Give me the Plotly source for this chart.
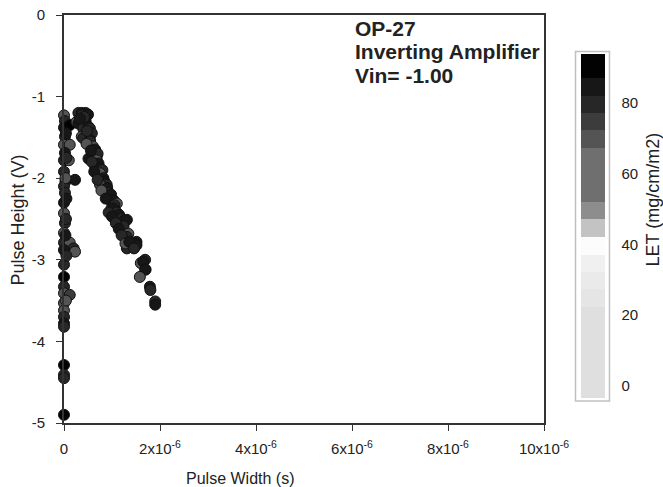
import plotly.graph_objects as go

# ---- data (pulse width in microseconds, pulse height in V, LET) ----
col_width_us = [0.0, 0.02, 0.0, 0.12, 0.02, 0.0, 0.12, 0.02, 0.0, 0.10, 0.0, 0.03, 0.23, 0.0,
                0.02, 0.0, 0.0, 0.02, 0.0, 0.0, 0.12, 0.20, 0.0, 0.23, 0.0, 0.0, 0.0, 0.0,
                0.12, 0.0, 0.0, 0.0, 0.0, 0.0, 0.0, 0.0, 0.0, 0.0,
                0.04, 0.05, 0.03, 0.05, 0.04, 0.03, 0.05, 0.04]
col_height = [-1.23, -1.30, -1.38, -1.35, -1.49, -1.59, -1.59, -1.69, -1.78, -1.78, -1.92, -2.04,
              -2.02, -2.10, -2.18, -2.30, -2.43, -2.55, -2.67, -2.79, -2.79, -2.86, -2.88, -2.90,
              -3.06, -3.21, -3.33, -3.41, -3.43, -3.53, -3.62, -3.70, -3.78, -3.82, -4.29, -4.41,
              -4.45, -4.90,
              -1.45, -1.75, -2.00, -2.25, -2.50, -2.70, -2.95, -3.50]
col_let = [68, 80, 85, 88, 80, 72, 70, 85, 80, 72, 80, 85, 85, 78, 80, 85, 72, 80, 68, 80, 72, 80,
           85, 72, 78, 88, 80, 72, 75, 72, 70, 80, 85, 80, 88, 80, 78, 90,
           85, 80, 72, 85, 80, 85, 80, 72]

band_width_us = [0.30, 0.37, 0.45, 0.50, 0.26, 0.37, 0.30, 0.45, 0.40, 0.51, 0.54, 0.37, 0.58, 0.40,
                 0.54, 0.54, 0.60, 0.61, 0.65, 0.51, 0.68, 0.70, 0.68, 0.72, 0.65, 0.75, 0.80, 0.71,
                 0.75, 0.82, 0.82, 0.85, 0.89, 0.75, 0.90, 0.92, 0.98, 0.96, 1.03, 1.10, 0.99, 1.05,
                 1.03, 1.10, 1.15, 1.17, 1.20, 1.25, 1.31, 1.24, 1.34, 1.31, 1.51, 1.44, 1.41, 1.31,
                 1.51, 1.31, 1.60, 1.69, 1.65, 1.70, 1.69, 1.58, 1.79, 1.80, 1.90, 1.90,
                 0.42, 0.33, 0.48, 0.47, 0.56, 0.58, 0.63, 0.70, 0.78, 0.87, 0.93, 1.00, 1.08, 1.14,
                 1.20, 1.28, 1.36, 1.46]
band_height = [-1.20, -1.20, -1.20, -1.22, -1.31, -1.23, -1.33, -1.30, -1.39, -1.37, -1.39, -1.49,
               -1.45, -1.51, -1.53, -1.55, -1.61, -1.68, -1.65, -1.76, -1.74, -1.70, -1.78, -1.82,
               -1.86, -1.88, -1.90, -1.96, -1.94, -2.00, -2.02, -2.05, -2.08, -2.08, -2.12, -2.18,
               -2.20, -2.27, -2.27, -2.31, -2.37, -2.33, -2.37, -2.42, -2.45, -2.53, -2.50, -2.52,
               -2.51, -2.59, -2.68, -2.72, -2.78, -2.80, -2.84, -2.84, -2.82, -2.86, -3.04, -3.00,
               -3.02, -3.12, -3.12, -3.21, -3.33, -3.37, -3.51, -3.55,
               -1.25, -1.27, -1.42, -1.58, -1.66, -1.80, -1.92, -2.02, -2.15, -2.25, -2.42, -2.47,
               -2.55, -2.62, -2.70, -2.80, -2.78, -2.86]
band_let = [80, 85, 82, 85, 72, 80, 85, 85, 80, 82, 80, 72, 80, 80, 85, 80, 72, 80, 85, 85, 80, 80,
            72, 85, 80, 85, 80, 80, 72, 80, 85, 85, 80, 72, 85, 80, 85, 80, 85, 72, 80, 80, 85, 80,
            85, 80, 80, 85, 85, 80, 72, 80, 85, 80, 72, 80, 85, 80, 72, 80, 85, 80, 85, 72, 85, 80,
            80, 85,
            80, 85, 80, 72, 85, 80, 85, 80, 72, 85, 80, 85, 80, 85, 80, 72, 85, 80]

x_tick_vals = [0, 2e-6, 4e-6, 6e-6, 8e-6, 10e-6]
x_tick_text = ["0", "2x10<sup>-6</sup>", "4x10<sup>-6</sup>", "6x10<sup>-6</sup>",
               "8x10<sup>-6</sup>", "10x10<sup>-6</sup>"]
y_tick_vals = [0, -1, -2, -3, -4, -5]
y_tick_text = ["0", "-1", "-2", "-3", "-4", "-5"]
cb_tick_vals = [0, 20, 40, 60, 80]

# ---- discrete grey colour scale for LET ----
let_min, let_max = -3.2, 93.8
band_edges = [let_min, 22.5, 27.6, 32.2, 37.1, 42.1, 47.2, 52.2, 67.2, 72.3, 77.2, 81.9, 87.0, let_max]
band_colors = ["#dfdfdf", "#e5e5e5", "#eaeaea", "#f0f0f0", "#fcfcfc", "#c3c3c3", "#8d8d8d",
               "#6f6f6f", "#545454", "#3c3c3c", "#272727", "#171717", "#020202"]
span = let_max - let_min
colorscale = []
for i, c in enumerate(band_colors):
    colorscale.append([(band_edges[i] - let_min) / span, c])
    colorscale.append([(band_edges[i + 1] - let_min) / span, c])

xs = [v * 1e-6 for v in col_width_us + band_width_us]
ys = col_height + band_height
cs = col_let + band_let

FONT = "Arial, Liberation Sans, sans-serif"
AX = "#333333"

fig = go.Figure()
fig.add_trace(go.Scatter(
    x=xs, y=ys, mode="markers", cliponaxis=False, showlegend=False, hoverinfo="skip",
    marker=dict(
        size=11, color=cs, colorscale=colorscale, cmin=let_min, cmax=let_max,
        line=dict(color="#111111", width=1),
        colorbar=dict(
            x=(580.5 - 64) / 480, xanchor="left", xpad=0,
            y=(423 - 225.5) / 408, yanchor="middle", ypad=0,
            lenmode="pixels", len=344, thickness=24, thicknessmode="pixels",
            outlinewidth=0, tickvals=cb_tick_vals, ticks="outside", ticklen=14,
            tickcolor="rgba(0,0,0,0)", tickfont=dict(family=FONT, size=15, color="#222"),
        ),
    ),
))

fig.update_xaxes(
    range=[0, 10e-6], tickvals=x_tick_vals, ticktext=x_tick_text, ticks="outside",
    ticklen=6, tickwidth=1.3, tickcolor=AX, showline=True, linecolor=AX, linewidth=1.6,
    mirror=True, showgrid=False, zeroline=False, ticklabelstandoff=5, automargin=False,
    tickfont=dict(family=FONT, size=15, color="#222"),
)
fig.update_yaxes(
    range=[-5, 0], tickvals=y_tick_vals, ticktext=y_tick_text, ticks="outside",
    ticklen=6, tickwidth=1.3, tickcolor=AX, showline=True, linecolor=AX, linewidth=1.6,
    mirror=True, showgrid=False, zeroline=False, ticklabelstandoff=8, automargin=False,
    tickfont=dict(family=FONT, size=15, color="#222"),
)

annotations = [
    dict(text="Pulse Width (s)", x=(240 - 64) / 480, y=(423 - 478) / 408, xref="paper",
         yref="paper", showarrow=False, font=dict(family=FONT, size=16, color="#222"),
         xanchor="center", yanchor="middle"),
    dict(text="Pulse Height (V)", x=(17.5 - 64) / 480, y=(423 - 220) / 408, xref="paper",
         yref="paper", showarrow=False, textangle=-90,
         font=dict(family=FONT, size=18, color="#222"), xanchor="center", yanchor="middle"),
    dict(text="LET (mg/cm/m2)", x=(653 - 64) / 480, y=(423 - 199.5) / 408, xref="paper",
         yref="paper", showarrow=False, textangle=-90,
         font=dict(family=FONT, size=18, color="#222"), xanchor="center", yanchor="middle"),
]
for txt, cy in [("OP-27", 28), ("Inverting Amplifier", 51), ("Vin= -1.00", 75)]:
    annotations.append(dict(
        text="<b>" + txt + "</b>", x=(353 - 64) / 480, y=(423 - cy) / 408, xref="paper",
        yref="paper", showarrow=False, xanchor="left", yanchor="middle",
        font=dict(family=FONT, size=21, color="#222")))

fig.update_layout(
    template="simple_white",
    width=663, height=487, autosize=False,
    margin=dict(l=64, r=119, t=15, b=64, autoexpand=False),
    paper_bgcolor="white", plot_bgcolor="white",
    annotations=annotations,
    shapes=[dict(type="rect", xref="paper", yref="paper",
                 x0=(575.5 - 64) / 480, x1=(609.5 - 64) / 480,
                 y0=(423 - 401) / 408, y1=(423 - 51.5) / 408,
                 line=dict(color=AX, width=1.5), fillcolor="rgba(0,0,0,0)")],
)

fig.write_html("out.html", config={"displayModeBar": False},
               post_script="document.body.style.margin='0';")
